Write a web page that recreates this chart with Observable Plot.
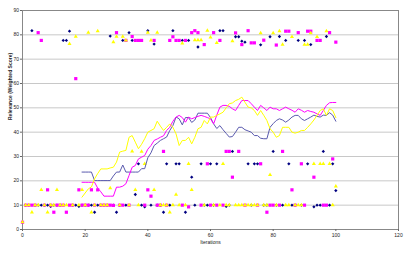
<!DOCTYPE html>
<html>
<head>
<meta charset="utf-8">
<script src="https://cdn.jsdelivr.net/npm/d3@7"></script>
<script src="https://cdn.jsdelivr.net/npm/@observablehq/plot@0.6"></script>
<style>
  html, body { margin: 0; padding: 0; background: #fff; }
  #chart { width: 409px; height: 254px; }
</style>
</head>
<body>
<div id="chart"></div>
<script>
// Tick labels
const xTicks = [0, 20, 40, 60, 80, 100, 120];
const yTicks = [0, 10, 20, 30, 40, 50, 60, 70, 80, 90];
const gridLevels = [10, 20, 30, 40, 50, 60, 70, 80];

// Scatter values, one per iteration (iterations 0..100)
const navyValues = [3,10,10,81.7,10,10,10,10,10,9.5,10,10,10,77.7,77.7,81.5,10,10,9.5,10,
  10,10,10,7.1,10,10,10,10,79.5,10,7.1,10,77.7,10,80.9,77.7,14.4,27,10,9.3,
  81.7,10,76.2,10,10,7.1,27,10,81.7,27,27,77.7,7.1,77.7,21.5,10,75,27,10,10,
  27,10,27,81.7,81.7,9.5,10,32.1,79.2,79.2,77.4,77,27,10,27,27,75.9,10,10,79.2,
  32.1,10,79.3,10,77.7,27,10,10,77.7,10,77.7,27,76,9.3,10,10,32.1,79.3,10,27,16];
const magentaValues = [3,10,10,10,10,80.9,77.7,10,16.3,10,7.1,10,10,10,7.1,10,10,62,16.3,10,
  10,10,16.3,10,16.3,10,10,10,10,9.9,80.9,10,10,77.7,10,79.3,77.7,77.7,77.7,10,
  16.3,13.7,77.7,10,10,32.1,10,77.7,79.2,77.7,77.7,10,77.7,9.3,80.9,81.7,80.9,10,76,27,
  10,80.9,10,77.7,10,32.1,32.1,21.5,80.8,32.1,76,10,81.7,76.7,76.7,10,27,77.8,7.1,10,
  10,75.8,10,32.1,81.5,81.5,16.3,10,80.9,27,10,81.5,81.5,21.5,77.7,77.7,10,10,80.9,29,77];
const yellowValues = [3,10,10,7.1,10,10,16.3,10,7.1,10,10,16.3,10,10,10,76.3,10,79.3,10,16.3,
  10,80.9,7.1,10,81.5,10,10,10,17,77,79.3,10,79.3,77.7,10,32.1,16.3,10,32,27,
  80.9,77.7,16.3,80.9,10,10,10,7.1,10,14.4,10,76.5,10,27,16.3,77.8,77.8,77.8,10,81.7,
  79,10,76.7,10,27,10,10,77.4,10,10,10,10,10,10,10,10,80.7,10,10,22.5,
  80.7,10,81.5,76,10,10,79.2,10,10,10,76,76,80.7,27,79.2,27,27,81.5,27,10,17.7];

// 20-iteration moving averages (iterations 19..100)
const avgStart = 19;
const navyAvg = [23.6,23.6,23.6,23.6,20.1,20.1,20.1,20.1,20.1,20.1,
  22.0,23.6,23.6,26.5,23.6,23.6,23.6,23.6,23.6,25.0,
  25.0,29.5,31.5,34.5,35.5,36.6,37.3,38.0,40.7,42.7,
  46.2,45.5,43.0,46.0,46.0,44.0,45.0,47.8,47.8,47.8,
  47.8,46.0,43.4,41.5,42.7,41.0,39.5,38.0,38.2,40.0,
  42.0,42.0,41.0,40.5,40.0,38.6,38.6,37.5,37.3,37.3,
  42.0,43.5,44.8,45.5,45.0,44.1,45.0,46.2,46.9,46.9,
  45.5,44.8,45.5,46.2,47.0,46.5,46.2,47.0,46.9,48.0,
  47.0,44.5];
const magentaAvg = [19.4,19.4,19.4,19.4,19.4,17.0,15.5,13.7,13.7,13.7,
  13.7,17.4,17.4,17.8,18.8,22.2,25.6,26.3,29.0,29.7,
  30.4,33.0,34.5,36.6,37.2,37.9,38.5,40.7,42.0,44.5,
  46.2,46.9,46.0,44.1,46.2,45.5,46.0,46.5,46.9,46.5,
  46.0,45.5,43.4,47.0,50.3,51.0,51.0,50.6,49.6,48.9,
  51.0,53.0,53.0,53.0,51.7,50.3,48.9,51.0,50.0,48.9,
  50.3,49.6,49.6,48.9,49.6,50.3,49.6,49.0,48.2,49.6,
  49.0,48.2,48.9,48.5,48.2,47.5,46.9,48.9,51.0,52.1,
  52.2,52.2];
const yellowAvg = [13.3,15.0,16.7,17.5,20.8,23.0,24.9,24.9,24.9,25.3,
  25.6,27.7,31.8,32.2,32.5,37.9,38.6,35.9,33.2,35.0,
  37.3,40.0,40.7,41.4,44.5,42.5,40.7,42.0,43.4,42.0,
  39.3,34.5,36.6,36.6,37.9,35.2,37.9,41.4,42.0,44.8,
  43.4,46.2,46.2,46.9,47.5,48.2,50.0,51.7,52.0,53.0,
  53.5,54.4,52.3,50.3,50.0,48.9,46.9,48.9,46.9,44.8,
  41.4,40.0,37.9,38.6,42.0,42.0,42.0,40.0,39.6,40.0,
  40.7,40.7,42.0,43.4,45.0,46.9,48.9,49.6,46.9,49.6,
  48.9,46.0];

const xTitle = "Iterations";
const yTitle = "Relevance (Weighted Score)";

const pts = arr => arr.map((v, i) => ({x: i, y: v}));
const avg = arr => arr.map((v, i) => ({x: avgStart + i, y: v}));

const chart = Plot.plot({
  width: 409,
  height: 254,
  marginLeft: 22,
  marginRight: 11,
  marginTop: 10,
  marginBottom: 25,
  style: {fontFamily: "Liberation Sans, Arial, sans-serif", fontSize: "5px", background: "#fff", color: "#222"},
  x: {domain: [0, 120]},
  y: {domain: [0, 90]},
  marks: [
    Plot.ruleY(gridLevels, {stroke: "#c8c8c8", strokeWidth: 1}),
    Plot.frame({stroke: "#888"}),
    Plot.axisX(xTicks, {tickSize: 2, tickPadding: 2, fontSize: 5, label: null, stroke: "#666"}),
    Plot.axisY(yTicks, {tickSize: 2, tickPadding: 1.5, fontSize: 5, label: null, stroke: "#666"}),
    Plot.text([xTitle], {frameAnchor: "bottom", dy: 14, fontSize: 5, fill: "#222"}),
    Plot.text([yTitle], {frameAnchor: "left", dx: -12, rotate: -90, fontSize: 5, fontWeight: "bold", fill: "#222"}),
    Plot.dot(pts(navyValues), {x: "x", y: "y", symbol: "diamond2", r: 1.5, fill: "#000080", stroke: null}),
    Plot.dot(pts(magentaValues), {x: "x", y: "y", symbol: "square", r: 1.8, fill: "#ff00ff", stroke: null}),
    Plot.dot(pts(yellowValues), {x: "x", y: "y", symbol: "triangle", r: 1.5, fill: "#ffff00", stroke: null}),
    Plot.line(avg(navyAvg), {x: "x", y: "y", stroke: "#5a5aae", strokeWidth: 1}),
    Plot.line(avg(magentaAvg), {x: "x", y: "y", stroke: "#ff00ff", strokeWidth: 1}),
    Plot.line(avg(yellowAvg), {x: "x", y: "y", stroke: "#ffff00", strokeWidth: 1})
  ]
});
document.getElementById("chart").appendChild(chart);
</script>
</body>
</html>
